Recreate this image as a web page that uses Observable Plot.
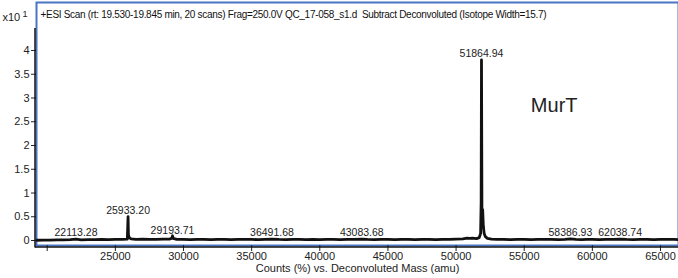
<!DOCTYPE html>
<html><head><meta charset="utf-8">
<script src="https://cdn.jsdelivr.net/npm/d3@7"></script>
<script src="https://cdn.jsdelivr.net/npm/@observablehq/plot@0.6"></script>
<style>
html,body{margin:0;padding:0;background:#fff;}
svg{font-family:"Liberation Sans",Arial,sans-serif;}
</style></head><body><div id="chart"></div>
<script>
// Spectrum (deconvoluted mass, amu) and intensity (x10^1 counts %)
const masses = [19250,19700,20200,20700,21200,21700,22113,22500,23000,23500,24000,24500,25000,25500,25880,25933,25960,26020,26150,26500,27000,27500,28000,28500,29000,29150,29194,29240,29500,30000,30500,31000,31500,32000,32500,33000,33500,34000,34500,35000,35500,36000,36492,37000,37500,38000,38500,39000,39500,40000,40500,41000,41500,42000,42500,43084,43500,44000,44500,45000,45500,46000,46500,47000,47500,48000,48500,49000,49500,50000,50500,50800,51000,51200,51500,51700,51800,51840,51865,51900,51950,52000,52060,52150,52300,52600,53000,53500,54000,54500,55000,55500,56000,56500,57000,57500,58000,58387,58800,59200,59600,60000,60500,61000,61500,62039,62500,63000,63500,64000,64500,65000,65500,66000,66320];
const intensity = [0.005,0.008,0.010,0.012,0.015,0.018,0.030,0.015,0.018,0.020,0.022,0.020,0.022,0.025,0.030,0.500,0.120,0.060,0.035,0.025,0.028,0.022,0.025,0.028,0.030,0.050,0.100,0.045,0.025,0.022,0.020,0.025,0.022,0.020,0.024,0.022,0.020,0.022,0.025,0.022,0.020,0.024,0.030,0.022,0.020,0.022,0.025,0.020,0.022,0.020,0.024,0.022,0.020,0.022,0.025,0.030,0.022,0.020,0.024,0.022,0.020,0.022,0.025,0.020,0.022,0.024,0.020,0.025,0.022,0.030,0.035,0.050,0.045,0.050,0.040,0.060,0.150,0.800,3.800,0.400,0.650,0.300,0.150,0.080,0.045,0.030,0.025,0.022,0.020,0.024,0.022,0.020,0.022,0.025,0.022,0.020,0.024,0.035,0.022,0.020,0.022,0.024,0.020,0.022,0.025,0.030,0.022,0.020,0.024,0.022,0.020,0.022,0.025,0.022,0.020];

// Labelled peaks
const peakMass = [22113.28, 25933.20, 29193.71, 36491.68, 43083.68, 51864.94, 58386.93, 62038.74];
const peakHeight = [0.03, 0.50, 0.08, 0.03, 0.03, 3.80, 0.03, 0.03];
const peakLabel = ["22113.28", "25933.20", "29193.71", "36491.68", "43083.68", "51864.94", "58386.93", "62038.74"];

const yTicks = [0, 0.5, 1, 1.5, 2, 2.5, 3, 3.5, 4];
const xTicks = [20000, 25000, 30000, 35000, 40000, 45000, 50000, 55000, 60000, 65000];
const xTickLabels = ["", "25000", "30000", "35000", "40000", "45000", "50000", "55000", "60000", "65000"];

const titleText = "+ESI Scan (rt: 19.530-19.845 min, 20 scans) Frag=250.0V QC_17-058_s1.d  Subtract Deconvoluted (Isotope Width=15.7)";
const xLabel = "Counts (%) vs. Deconvoluted Mass (amu)";
const annotation = [{mass: 57200, value: 2.83, text: "MurT"}];

const spectrum = masses.map((m, i) => ({m, v: intensity[i]}));
const peaks = peakMass.map((m, i) => ({m, v: peakHeight[i], label: peakLabel[i]}));

const BLUE = "#4a74c4";
const plot = Plot.plot({
  width: 678, height: 278,
  marginLeft: 36, marginRight: 0, marginTop: 2, marginBottom: 33,
  style: {fontFamily: '"Liberation Sans", Arial, sans-serif', fontSize: "11px", color: "#222"},
  x: {domain: [19215, 66320]},
  y: {domain: [-0.105, 5.01]},
  marks: [
    Plot.frame({stroke: BLUE, strokeWidth: 2}),
    Plot.axisY({ticks: yTicks, tickFormat: d => String(d), tickSize: 5, tickPadding: 2, fontSize: 11, label: null, stroke: "#222"}),
    Plot.axisX({ticks: xTicks, tickFormat: (d, i) => xTickLabels[i], tickSize: 6, tickPadding: 1, fontSize: 11, label: null, stroke: "#222"}),
    Plot.line(spectrum, {x: "m", y: "v", stroke: "#111", strokeWidth: 2.8}),
    Plot.text(peaks, {x: "m", y: "v", text: "label", lineAnchor: "bottom", dy: -3, fontSize: 10.5, fill: "#222"}),
    Plot.text(annotation, {x: "mass", y: "value", text: "text", fontSize: 20, fill: "#222"}),
    Plot.text([titleText], {frameAnchor: "top-left", dx: 4, dy: 12, lineAnchor: "middle", fontSize: 10, fill: "#111", className: "ttl"}),
    Plot.text(["x10"], {frameAnchor: "top-left", dx: -34, dy: 15, lineAnchor: "middle", fontSize: 11, fill: "#222"}),
    Plot.text([xLabel], {frameAnchor: "bottom", dy: 23, lineAnchor: "middle", fontSize: 11, fill: "#222"})
  ]
});

const svg = d3.select(plot);
svg.selectAll(".ttl text").attr("letter-spacing", "-0.3px");
const xr = plot.scale("x").range, yr = plot.scale("y").range;
// exponent of the y multiplier
svg.append("text").attr("x", 25).attr("y", 14).attr("dy", "0.32em").attr("font-size", 9).attr("fill", "#222").text("1");
// black axis lines just outside the blue frame
svg.append("line").attr("x1", xr[0] - 1).attr("x2", xr[0] - 1).attr("y1", 28).attr("y2", yr[0] + 2.5)
  .attr("stroke", "#111").attr("stroke-width", 1.5);
svg.append("line").attr("x1", xr[0] - 1).attr("x2", xr[1]).attr("y1", yr[0] + 2).attr("y2", yr[0] + 2)
  .attr("stroke", "#111").attr("stroke-width", 1.5);
document.getElementById("chart").appendChild(plot);
</script></body></html>
